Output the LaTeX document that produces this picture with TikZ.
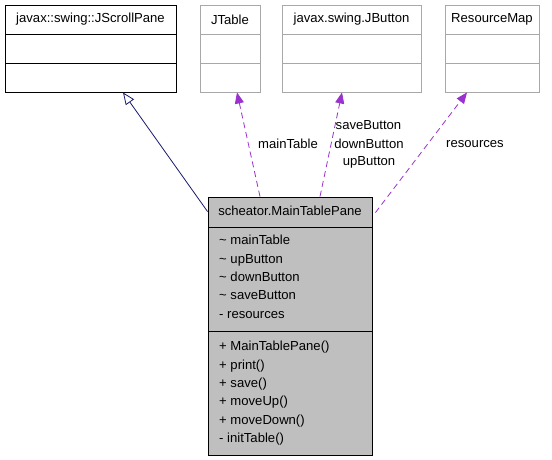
\documentclass[tikz,border=0pt]{standalone}
\usepackage{fontspec}
\setmainfont{Liberation Sans}
\usetikzlibrary{arrows.meta,calc}
\definecolor{edgeblue}{HTML}{191970}
\definecolor{edgepurple}{HTML}{9A32CD}
\definecolor{boxgray}{HTML}{A8A8A8}
\definecolor{mainfill}{HTML}{BFBFBF}
\begin{document}
\begin{tikzpicture}[x=1pt,y=-1pt,
  every node/.style={font=\fontsize{13.1}{15}\selectfont, inner sep=0pt},
  classbox/.style={draw, line width=0.9pt, minimum width=#1, minimum height=87pt},
  extbox/.style={draw=boxgray, line width=0.9pt, minimum width=#1, minimum height=87pt},
  mainbox/.style={draw, fill=mainfill, line width=0.9pt, minimum width=164pt, minimum height=258pt},
  member/.style={anchor=base west},
  inherit/.style={draw=edgeblue, line width=0.8pt, -{Triangle[open, length=12pt, width=10pt, fill=white]}},
  uses/.style={draw=edgepurple, line width=0.8pt, dash pattern=on 6pt off 4pt, -{Triangle[length=11pt, width=9pt]}},
  elabel/.style={font=\fontsize{13.1}{15}\selectfont}
]
\useasboundingbox (0,0) rectangle (552,459);
\fill[white] (0,0) rectangle (552,459);

% external / parent classes
\node[classbox=171pt] (scroll) at (90.5,48.5) {};
\draw[line width=0.9pt] (5,34) -- (176,34) (5,63) -- (176,63);
\node (scrollt) at (90.5,19.5) {javax::swing::JScrollPane};

\node[extbox=60pt] (jtable) at (230,48.5) {};
\draw[boxgray, line width=0.9pt] (200,34) -- (260,34) (200,63) -- (260,63);
\node (jtablet) at (230,19.5) {JTable};

\node[extbox=139pt] (jbutton) at (351.5,48.5) {};
\draw[boxgray, line width=0.9pt] (282,34) -- (421,34) (282,63) -- (421,63);
\node (jbuttont) at (351.5,19.5) {javax.swing.JButton};

\node[extbox=94pt] (resmap) at (492,48.5) {};
\draw[boxgray, line width=0.9pt] (445,34) -- (539,34) (445,63) -- (539,63);
\node (resmapt) at (492,19.5) {ResourceMap};

% main class
\node[mainbox] (main) at (290,326) {};
\draw[line width=0.9pt] (208,227) -- (372,227) (208,331) -- (372,331);
\node (maint) at (290,211) {scheator.MainTablePane};

\node[member] (a1) at (219,244.6) {\textasciitilde{} mainTable};
\node[member] (a2) at (219,263) {\textasciitilde{} upButton};
\node[member] (a3) at (219,281.4) {\textasciitilde{} downButton};
\node[member] (a4) at (219,299.8) {\textasciitilde{} saveButton};
\node[member] (a5) at (219,318.2) {- resources};

\node[member] (m1) at (219,350.6) {+ MainTablePane()};
\node[member] (m2) at (219,369) {+ print()};
\node[member] (m3) at (219,387.4) {+ save()};
\node[member] (m4) at (219,405.8) {+ moveUp()};
\node[member] (m5) at (219,424.2) {+ moveDown()};
\node[member] (m6) at (219,442.6) {- initTable()};

% connectors
\coordinate (inhs) at ($(main.north west)+(0,15)$);
\coordinate (inhe) at ($(scroll.south)+(32.5,0)$);
\draw[inherit] (inhs) -- (inhe);

\coordinate (mts) at ($(main.north)+(-30,0)$);
\coordinate (mte) at ($(jtable.south)+(7,0)$);
\draw[uses] (mts) -- (mte);

\coordinate (bts) at ($(main.north)+(30,0)$);
\coordinate (bte) at ($(jbutton.south)+(-9.5,0)$);
\draw[uses] (bts) -- (bte);

\coordinate (rms) at ($(main.north east)+(3,16)$);
\coordinate (rme) at ($(resmap.south)+(-25,0)$);
\draw[uses] (rms) -- (rme);

% connector labels
\node[elabel] (l1) at (288,144) {mainTable};
\node[elabel] (l2) at (368.5,125) {saveButton};
\node[elabel] (l3) at (369,143.5) {downButton};
\node[elabel] (l4) at (369,162) {upButton};
\node[elabel] (l5) at (475,144) {resources};
\end{tikzpicture}
\end{document}
